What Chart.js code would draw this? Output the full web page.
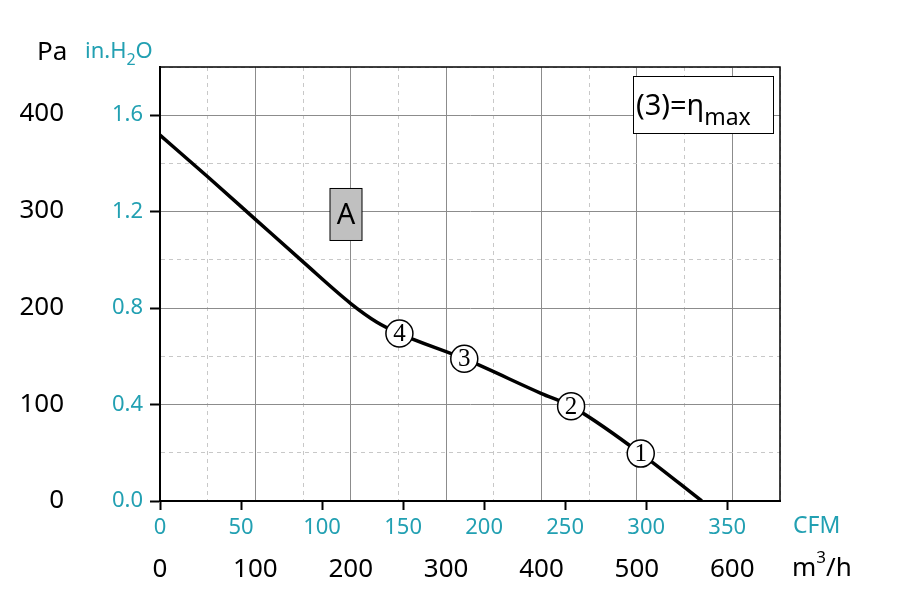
<!DOCTYPE html>
<html>
<head>
<meta charset="utf-8">
<script src="https://cdn.jsdelivr.net/npm/chart.js@4/dist/chart.umd.min.js"></script>
<style>
  html, body { margin: 0; padding: 0; background: #fff; }
  #wrap { width: 903px; height: 599px; }
</style>
</head>
<body>
<div id="wrap"><canvas id="fanChart"></canvas></div>
<script>
// fan curve, airflow in m3/h, static pressure in Pa
const flowM3h = [0, 50, 100, 150, 200, 227, 251, 319, 400, 431, 504, 568];
const pressurePa = [378, 335, 291, 247, 204, 185, 173, 147, 111, 98, 49, 0];

// operating points (labels 4..1)
const pointFlow = [251, 319, 431, 504];
const pointPa = [173, 147, 98, 49];
const pointLabels = ['4', '3', '2', '1'];

// tick labels
const cfmTicks = [0, 50, 100, 150, 200, 250, 300, 350];
const paTicks = [0, 100, 200, 300, 400];

const PA_PER_INH2O = 249.09;
const M3H_PER_CFM = 1.699;
const teal = '#22a0b2';
const sans = "'Noto Sans', 'Open Sans', sans-serif";

const curveData = flowM3h.map((x, i) => ({ x: x, y: pressurePa[i] }));
const pointData = pointFlow.map((x, i) => ({ x: x, y: pointPa[i] }));

const isMajorX = v => Math.abs(v % 100) < 1e-6;
const isMajorY = v => Math.round(v * 10) % 4 === 0;

const overlay = {
    id: 'overlay',
    afterDatasetsDraw(chart) {
        const ctx = chart.ctx;
        const a = chart.chartArea;
        const xs = chart.scales.x, ys = chart.scales.pa;

        // numbers inside the operating point circles
        const meta = chart.getDatasetMeta(1);
        ctx.save();
        ctx.fillStyle = '#000';
        ctx.font = "25px 'Liberation Serif', serif";
        ctx.textAlign = 'center';
        ctx.textBaseline = 'middle';
        meta.data.forEach((p, i) => ctx.fillText(pointLabels[i], p.x, p.y + 1));

        // top / right frame
        ctx.strokeStyle = '#000';
        ctx.lineWidth = 1.5;
        ctx.beginPath();
        ctx.moveTo(a.left, a.top);
        ctx.lineTo(a.right, a.top);
        ctx.lineTo(a.right, a.bottom);
        ctx.stroke();

        // "A" box
        const ax = xs.getPixelForValue(195), ay = ys.getPixelForValue(296);
        ctx.fillStyle = '#c0c0c0';
        ctx.fillRect(ax - 16, ay - 26, 32, 52);
        ctx.lineWidth = 1;
        ctx.strokeRect(ax - 16, ay - 26, 32, 52);
        ctx.fillStyle = '#000';
        ctx.font = '29px ' + sans;
        ctx.fillText('A', ax, ay + 1);

        // "(3)=η max" box
        ctx.fillStyle = '#fff';
        ctx.fillRect(633.5, 76.5, 140, 57);
        ctx.strokeRect(633.5, 76.5, 140, 57);
        ctx.fillStyle = '#000';
        ctx.textAlign = 'left';
        ctx.textBaseline = 'alphabetic';
        ctx.font = '29px ' + sans;
        ctx.fillText('(3)=η', 636, 115);
        const w = ctx.measureText('(3)=η').width;
        ctx.font = '23px ' + sans;
        ctx.fillText('max', 636 + w, 125);

        // axis unit titles
        ctx.font = '26px ' + sans;
        ctx.textBaseline = 'middle';
        ctx.fillText('Pa', 37, 53);
        ctx.fillStyle = teal;
        ctx.font = '22px ' + sans;
        ctx.fillText('in.H', 85, 52);
        let wx = 85 + ctx.measureText('in.H').width;
        ctx.font = '16px ' + sans;
        ctx.fillText('2', wx, 60);
        wx += ctx.measureText('2').width;
        ctx.font = '22px ' + sans;
        ctx.fillText('O', wx, 52);

        ctx.font = '23px ' + sans;
        ctx.fillText('CFM', 793, 526);
        ctx.fillStyle = '#000';
        ctx.font = '26px ' + sans;
        ctx.fillText('m', 792, 569);
        wx = 792 + ctx.measureText('m').width;
        ctx.font = '17px ' + sans;
        ctx.fillText('3', wx, 558);
        wx += ctx.measureText('3').width;
        ctx.font = '26px ' + sans;
        ctx.fillText('/h', wx, 569);
        ctx.restore();
    }
};

new Chart(document.getElementById('fanChart'), {
    type: 'scatter',
    data: {
        datasets: [{
            data: curveData,
            xAxisID: 'x',
            yAxisID: 'pa',
            showLine: true,
            borderColor: '#000',
            borderWidth: 3.5,
            pointRadius: 0,
            cubicInterpolationMode: 'monotone',
            order: 2
        }, {
            data: pointData,
            xAxisID: 'x',
            yAxisID: 'pa',
            showLine: false,
            pointRadius: 13.5,
            pointBackgroundColor: '#fff',
            pointBorderColor: '#000',
            pointBorderWidth: 1.5,
            order: 1
        }]
    },
    options: {
        responsive: true,
        maintainAspectRatio: false,
        animation: false,
        layout: { padding: { top: 67, right: 123, bottom: 3, left: 0 } },
        plugins: { legend: { display: false }, tooltip: { enabled: false } },
        scales: {
            x: {
                type: 'linear', position: 'bottom', weight: 1,
                min: 0, max: 650,
                afterFit: s => { s.height = 50; },
                ticks: {
                    stepSize: 50, autoSkip: false, maxRotation: 0, padding: 8,
                    color: '#000', font: { family: sans, size: 26 },
                    callback: v => isMajorX(v) ? v : ''
                },
                grid: {
                    drawTicks: false,
                    color: c => isMajorX(c.tick.value) ? '#8c8c8c' : '#c8c8c8'
                },
                border: {
                    display: false,
                    dash: c => (c.tick && !isMajorX(c.tick.value)) ? [4, 4] : []
                }
            },
            cfm: {
                type: 'linear', position: 'bottom', weight: 0,
                min: 0, max: 650 / M3H_PER_CFM,
                afterFit: s => { s.height = 45; },
                afterBuildTicks: s => { s.ticks = cfmTicks.map(v => ({ value: v })); },
                ticks: {
                    autoSkip: false, maxRotation: 0, padding: 5,
                    color: teal, font: { family: sans, size: 22 }
                },
                grid: {
                    drawOnChartArea: false, tickLength: 9, tickWidth: 2, tickColor: '#000'
                },
                border: { color: '#000', width: 2 }
            },
            y: {
                type: 'linear', position: 'left', weight: 0,
                min: 0, max: 1.8,
                afterFit: s => { s.width = 60; },
                ticks: {
                    stepSize: 0.2, autoSkip: false, padding: 7,
                    color: teal, font: { family: sans, size: 22 },
                    callback: v => isMajorY(v) ? v.toFixed(1) : ''
                },
                grid: {
                    tickLength: 10, tickWidth: 2,
                    color: c => isMajorY(c.tick.value) ? '#8c8c8c' : '#c8c8c8',
                    tickColor: c => isMajorY(c.tick.value) ? '#000' : 'rgba(0,0,0,0)'
                },
                border: {
                    color: '#000', width: 2,
                    dash: c => (c.tick && !isMajorY(c.tick.value)) ? [4, 4] : []
                }
            },
            pa: {
                type: 'linear', position: 'left', weight: 1,
                min: 0, max: 1.8 * PA_PER_INH2O,
                afterFit: s => { s.width = 100; },
                afterBuildTicks: s => { s.ticks = paTicks.map(v => ({ value: v })); },
                ticks: {
                    autoSkip: false, padding: 28,
                    color: '#000', font: { family: sans, size: 26 }
                },
                grid: { display: false },
                border: { display: false }
            }
        }
    },
    plugins: [overlay]
});
</script>
</body>
</html>
